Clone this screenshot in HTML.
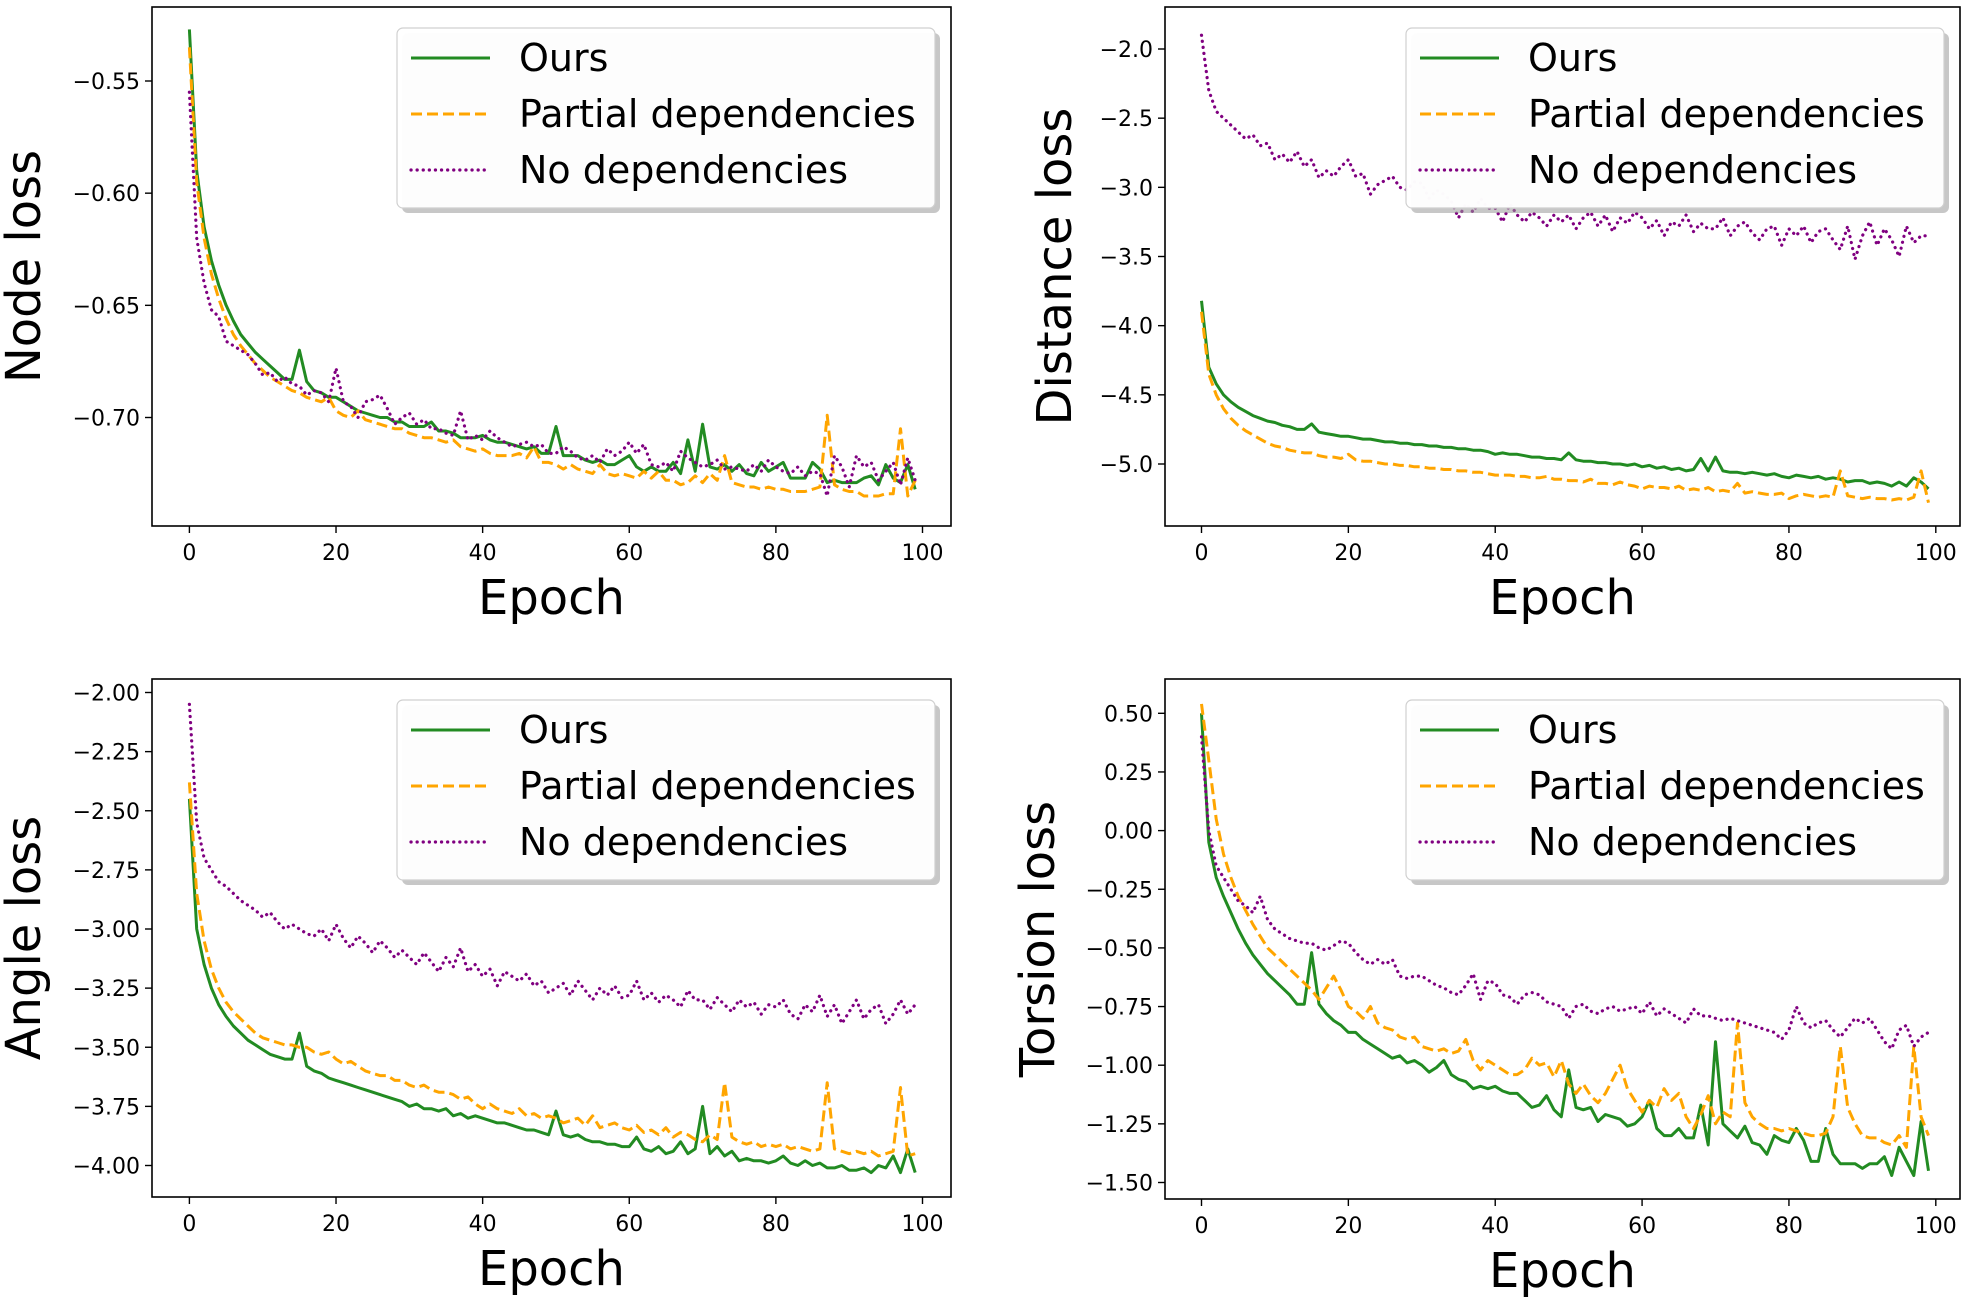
<!DOCTYPE html>
<html><head><meta charset="utf-8"><style>
html,body{margin:0;padding:0;background:#fff;}
svg text{font-family:"DejaVu Sans","Liberation Sans",sans-serif;}
</style></head><body>
<svg id="fig" xmlns="http://www.w3.org/2000/svg" width="1967" height="1300" viewBox="0 0 1967 1300"></svg>
<script>
const epochs = Array.from({length:100},(_, i)=>i);
const xTicks = [0,20,40,60,80,100];
const nodeTicks = [-0.55,-0.60,-0.65,-0.70];
const distTicks = [-2.0,-2.5,-3.0,-3.5,-4.0,-4.5,-5.0];
const angleTicks = [-2.00,-2.25,-2.50,-2.75,-3.00,-3.25,-3.50,-3.75,-4.00];
const torsionTicks = [0.50,0.25,0.00,-0.25,-0.50,-0.75,-1.00,-1.25,-1.50];
const seriesNames = ["Ours","Partial dependencies","No dependencies"];

const nodeOurs = [-0.527,-0.590,-0.615,-0.630,-0.641,-0.650,-0.657,-0.663,-0.667,-0.671,
-0.674,-0.677,-0.680,-0.683,-0.683,-0.670,-0.684,-0.688,-0.689,-0.691,
-0.691,-0.693,-0.695,-0.697,-0.698,-0.699,-0.700,-0.700,-0.702,-0.702,
-0.704,-0.704,-0.704,-0.702,-0.706,-0.706,-0.707,-0.709,-0.709,-0.709,
-0.708,-0.710,-0.711,-0.711,-0.712,-0.713,-0.714,-0.713,-0.716,-0.716,
-0.704,-0.717,-0.717,-0.717,-0.719,-0.720,-0.719,-0.721,-0.721,-0.719,
-0.717,-0.722,-0.724,-0.722,-0.724,-0.724,-0.720,-0.725,-0.710,-0.724,
-0.703,-0.722,-0.723,-0.721,-0.724,-0.721,-0.725,-0.726,-0.720,-0.724,
-0.722,-0.720,-0.727,-0.727,-0.727,-0.720,-0.723,-0.729,-0.728,-0.729,
-0.729,-0.729,-0.727,-0.726,-0.730,-0.721,-0.727,-0.729,-0.721,-0.732];
const nodePartial = [-0.535,-0.595,-0.620,-0.636,-0.647,-0.656,-0.663,-0.668,-0.672,-0.676,
-0.679,-0.682,-0.684,-0.686,-0.688,-0.689,-0.691,-0.692,-0.693,-0.691,
-0.697,-0.699,-0.700,-0.697,-0.701,-0.702,-0.703,-0.704,-0.705,-0.705,
-0.707,-0.708,-0.709,-0.709,-0.710,-0.711,-0.710,-0.713,-0.714,-0.715,
-0.714,-0.716,-0.717,-0.717,-0.717,-0.716,-0.718,-0.713,-0.720,-0.720,
-0.721,-0.723,-0.721,-0.723,-0.724,-0.725,-0.721,-0.725,-0.726,-0.725,
-0.726,-0.727,-0.724,-0.727,-0.724,-0.728,-0.728,-0.730,-0.729,-0.726,
-0.729,-0.725,-0.728,-0.717,-0.729,-0.730,-0.731,-0.731,-0.732,-0.731,
-0.732,-0.732,-0.733,-0.733,-0.733,-0.732,-0.731,-0.699,-0.730,-0.732,
-0.733,-0.733,-0.735,-0.735,-0.735,-0.734,-0.734,-0.705,-0.735,-0.728];
const nodeNone = [-0.555,-0.620,-0.640,-0.652,-0.655,-0.666,-0.668,-0.670,-0.672,-0.676,
-0.681,-0.680,-0.684,-0.682,-0.685,-0.686,-0.690,-0.688,-0.689,-0.693,
-0.678,-0.693,-0.695,-0.700,-0.693,-0.692,-0.690,-0.696,-0.703,-0.700,
-0.698,-0.703,-0.701,-0.705,-0.705,-0.707,-0.708,-0.697,-0.710,-0.708,
-0.710,-0.706,-0.709,-0.711,-0.713,-0.712,-0.711,-0.713,-0.712,-0.716,
-0.716,-0.713,-0.715,-0.718,-0.719,-0.717,-0.720,-0.714,-0.717,-0.715,
-0.711,-0.716,-0.712,-0.721,-0.722,-0.720,-0.724,-0.715,-0.718,-0.720,
-0.722,-0.721,-0.719,-0.723,-0.722,-0.723,-0.724,-0.721,-0.724,-0.719,
-0.722,-0.724,-0.725,-0.722,-0.726,-0.724,-0.725,-0.735,-0.717,-0.722,
-0.731,-0.717,-0.722,-0.720,-0.728,-0.724,-0.720,-0.730,-0.718,-0.728];

const distOurs = [-3.82,-4.30,-4.42,-4.50,-4.55,-4.59,-4.62,-4.65,-4.67,-4.69,
-4.70,-4.72,-4.73,-4.75,-4.75,-4.71,-4.77,-4.78,-4.79,-4.80,
-4.80,-4.81,-4.82,-4.82,-4.83,-4.84,-4.84,-4.85,-4.85,-4.86,
-4.86,-4.87,-4.87,-4.88,-4.88,-4.89,-4.89,-4.90,-4.90,-4.91,
-4.93,-4.92,-4.93,-4.93,-4.94,-4.95,-4.95,-4.96,-4.96,-4.97,
-4.92,-4.97,-4.98,-4.98,-4.99,-4.99,-5.00,-5.00,-5.01,-5.00,
-5.02,-5.01,-5.03,-5.02,-5.04,-5.03,-5.05,-5.04,-4.96,-5.05,
-4.95,-5.05,-5.06,-5.06,-5.07,-5.06,-5.07,-5.08,-5.07,-5.09,
-5.10,-5.08,-5.09,-5.10,-5.09,-5.11,-5.10,-5.11,-5.13,-5.12,
-5.12,-5.14,-5.13,-5.14,-5.16,-5.13,-5.16,-5.10,-5.13,-5.18];
const distPartial = [-3.90,-4.35,-4.50,-4.60,-4.67,-4.72,-4.76,-4.79,-4.82,-4.85,
-4.87,-4.88,-4.90,-4.91,-4.92,-4.92,-4.94,-4.95,-4.95,-4.96,
-4.93,-4.97,-4.98,-4.98,-4.99,-5.00,-5.00,-5.01,-5.01,-5.02,
-5.02,-5.03,-5.03,-5.04,-5.04,-5.05,-5.05,-5.06,-5.06,-5.07,
-5.08,-5.08,-5.08,-5.09,-5.09,-5.10,-5.10,-5.09,-5.11,-5.11,
-5.12,-5.12,-5.13,-5.11,-5.14,-5.14,-5.15,-5.13,-5.15,-5.16,
-5.18,-5.16,-5.17,-5.17,-5.18,-5.16,-5.19,-5.18,-5.19,-5.17,
-5.20,-5.19,-5.20,-5.14,-5.21,-5.20,-5.21,-5.22,-5.22,-5.21,
-5.25,-5.23,-5.22,-5.23,-5.24,-5.23,-5.24,-5.05,-5.23,-5.24,
-5.25,-5.24,-5.25,-5.25,-5.26,-5.25,-5.26,-5.24,-5.05,-5.28];
const distNone = [-1.90,-2.30,-2.45,-2.50,-2.55,-2.60,-2.65,-2.62,-2.70,-2.68,
-2.80,-2.76,-2.82,-2.74,-2.85,-2.80,-2.93,-2.88,-2.92,-2.85,
-2.80,-2.92,-2.90,-3.05,-2.98,-2.95,-2.92,-3.00,-3.02,-2.96,
-2.97,-3.08,-3.02,-3.05,-3.10,-3.22,-3.12,-3.18,-3.08,-3.15,
-3.15,-3.25,-3.12,-3.20,-3.25,-3.18,-3.22,-3.28,-3.20,-3.25,
-3.20,-3.30,-3.22,-3.18,-3.28,-3.20,-3.32,-3.22,-3.26,-3.18,
-3.22,-3.30,-3.24,-3.35,-3.25,-3.28,-3.20,-3.32,-3.26,-3.30,
-3.30,-3.22,-3.35,-3.28,-3.25,-3.33,-3.38,-3.30,-3.28,-3.42,
-3.30,-3.35,-3.28,-3.40,-3.32,-3.30,-3.38,-3.45,-3.28,-3.52,
-3.35,-3.25,-3.42,-3.30,-3.38,-3.50,-3.28,-3.40,-3.35,-3.35];

const angleOurs = [-2.45,-3.00,-3.15,-3.25,-3.32,-3.37,-3.41,-3.44,-3.47,-3.49,
-3.51,-3.53,-3.54,-3.55,-3.55,-3.44,-3.58,-3.60,-3.61,-3.63,
-3.64,-3.65,-3.66,-3.67,-3.68,-3.69,-3.70,-3.71,-3.72,-3.73,
-3.75,-3.74,-3.76,-3.76,-3.77,-3.76,-3.79,-3.78,-3.80,-3.79,
-3.80,-3.81,-3.82,-3.82,-3.83,-3.84,-3.85,-3.85,-3.86,-3.87,
-3.77,-3.87,-3.88,-3.87,-3.89,-3.90,-3.90,-3.91,-3.91,-3.92,
-3.92,-3.88,-3.93,-3.94,-3.92,-3.95,-3.94,-3.90,-3.95,-3.93,
-3.75,-3.95,-3.92,-3.96,-3.94,-3.98,-3.97,-3.98,-3.98,-3.99,
-3.98,-3.96,-3.99,-4.00,-3.98,-4.00,-3.99,-4.01,-4.01,-4.00,
-4.02,-4.02,-4.01,-4.03,-4.00,-4.01,-3.96,-4.03,-3.93,-4.03];
const anglePartial = [-2.38,-2.85,-3.05,-3.17,-3.25,-3.31,-3.35,-3.38,-3.41,-3.44,
-3.46,-3.47,-3.48,-3.49,-3.49,-3.50,-3.50,-3.52,-3.53,-3.52,
-3.55,-3.57,-3.56,-3.58,-3.60,-3.61,-3.62,-3.62,-3.64,-3.64,
-3.66,-3.67,-3.66,-3.68,-3.69,-3.69,-3.70,-3.72,-3.71,-3.74,
-3.76,-3.74,-3.76,-3.77,-3.78,-3.76,-3.79,-3.78,-3.80,-3.79,
-3.80,-3.82,-3.81,-3.80,-3.83,-3.79,-3.84,-3.83,-3.82,-3.84,
-3.85,-3.83,-3.86,-3.85,-3.87,-3.84,-3.88,-3.86,-3.87,-3.89,
-3.90,-3.87,-3.89,-3.65,-3.88,-3.90,-3.91,-3.90,-3.92,-3.91,
-3.92,-3.91,-3.93,-3.92,-3.93,-3.94,-3.93,-3.65,-3.93,-3.94,
-3.95,-3.94,-3.95,-3.94,-3.96,-3.95,-3.94,-3.67,-3.96,-3.95];
const angleNone = [-2.05,-2.55,-2.70,-2.75,-2.80,-2.82,-2.85,-2.88,-2.90,-2.92,
-2.95,-2.93,-2.97,-3.00,-2.98,-3.00,-3.02,-3.03,-3.00,-3.05,
-2.98,-3.04,-3.08,-3.03,-3.06,-3.10,-3.05,-3.08,-3.12,-3.09,
-3.12,-3.15,-3.10,-3.14,-3.18,-3.12,-3.16,-3.08,-3.18,-3.15,
-3.20,-3.17,-3.24,-3.18,-3.20,-3.22,-3.19,-3.24,-3.22,-3.27,
-3.25,-3.23,-3.28,-3.22,-3.26,-3.30,-3.25,-3.28,-3.24,-3.29,
-3.28,-3.22,-3.30,-3.27,-3.31,-3.28,-3.30,-3.33,-3.26,-3.30,
-3.30,-3.34,-3.29,-3.32,-3.35,-3.30,-3.33,-3.31,-3.36,-3.32,
-3.33,-3.30,-3.36,-3.38,-3.32,-3.35,-3.28,-3.37,-3.32,-3.40,
-3.35,-3.30,-3.38,-3.34,-3.32,-3.40,-3.36,-3.30,-3.36,-3.32];

const torsionOurs = [0.50,-0.05,-0.20,-0.28,-0.35,-0.42,-0.48,-0.53,-0.57,-0.61,
-0.64,-0.67,-0.70,-0.74,-0.74,-0.52,-0.74,-0.78,-0.81,-0.83,
-0.86,-0.86,-0.89,-0.91,-0.93,-0.95,-0.97,-0.96,-0.99,-0.98,
-1.00,-1.03,-1.01,-0.98,-1.04,-1.06,-1.07,-1.10,-1.09,-1.10,
-1.09,-1.11,-1.12,-1.12,-1.15,-1.18,-1.17,-1.13,-1.19,-1.22,
-1.02,-1.18,-1.19,-1.18,-1.24,-1.21,-1.22,-1.23,-1.26,-1.25,
-1.22,-1.15,-1.27,-1.30,-1.30,-1.27,-1.31,-1.31,-1.17,-1.34,
-0.90,-1.25,-1.28,-1.31,-1.26,-1.33,-1.34,-1.38,-1.30,-1.32,
-1.33,-1.27,-1.32,-1.41,-1.41,-1.27,-1.38,-1.42,-1.42,-1.42,
-1.44,-1.42,-1.42,-1.39,-1.47,-1.35,-1.41,-1.47,-1.24,-1.45];
const torsionPartial = [0.54,0.30,0.05,-0.10,-0.20,-0.28,-0.34,-0.40,-0.45,-0.50,
-0.53,-0.56,-0.59,-0.62,-0.65,-0.68,-0.72,-0.67,-0.62,-0.68,
-0.75,-0.77,-0.80,-0.75,-0.82,-0.84,-0.85,-0.88,-0.89,-0.88,
-0.92,-0.93,-0.94,-0.93,-0.95,-0.94,-0.89,-0.98,-1.02,-0.98,
-1.00,-1.02,-1.04,-1.04,-1.02,-0.97,-1.00,-0.99,-1.05,-0.98,
-1.08,-1.12,-1.08,-1.13,-1.16,-1.12,-1.06,-1.00,-1.10,-1.15,
-1.20,-1.15,-1.18,-1.10,-1.15,-1.12,-1.22,-1.27,-1.21,-1.13,
-1.25,-1.20,-1.22,-0.82,-1.16,-1.22,-1.25,-1.27,-1.27,-1.28,
-1.27,-1.28,-1.29,-1.30,-1.30,-1.29,-1.22,-0.92,-1.18,-1.25,
-1.30,-1.31,-1.31,-1.33,-1.34,-1.30,-1.35,-0.92,-1.22,-1.30];
const torsionNone = [0.40,0.00,-0.15,-0.20,-0.25,-0.30,-0.32,-0.35,-0.28,-0.38,
-0.42,-0.44,-0.46,-0.47,-0.48,-0.48,-0.50,-0.51,-0.49,-0.47,
-0.48,-0.52,-0.55,-0.57,-0.55,-0.57,-0.55,-0.62,-0.63,-0.62,
-0.62,-0.64,-0.66,-0.67,-0.69,-0.70,-0.66,-0.61,-0.72,-0.64,
-0.65,-0.70,-0.71,-0.74,-0.70,-0.69,-0.70,-0.73,-0.74,-0.75,
-0.80,-0.75,-0.74,-0.77,-0.78,-0.76,-0.75,-0.77,-0.76,-0.75,
-0.78,-0.73,-0.79,-0.76,-0.78,-0.80,-0.82,-0.76,-0.79,-0.79,
-0.80,-0.81,-0.80,-0.81,-0.82,-0.83,-0.84,-0.85,-0.86,-0.89,
-0.85,-0.75,-0.82,-0.84,-0.82,-0.81,-0.85,-0.88,-0.84,-0.80,
-0.82,-0.80,-0.85,-0.90,-0.93,-0.85,-0.83,-0.92,-0.88,-0.86];

const NS="http://www.w3.org/2000/svg";
const svg=document.getElementById('fig');
function mk(tag,attrs,parent){const e=document.createElementNS(NS,tag);for(const k in attrs)e.setAttribute(k,attrs[k]);(parent||svg).appendChild(e);return e;}
const styles=[{c:"#228B22",d:"",w:3},{c:"#FFA500",d:"11,5",w:3},{c:"#800080",d:"0.1,6",w:3.2}];

function panel(id,box,ticks,ref,series,ylabel,ylx,dec){
  const g=mk('g',{});
  
  
  const xS=v=>box.x0px+(v-0)*(box.x100px-box.x0px)/100;
  const yS=v=>ref[1]+(v-ref[0])*(ref[3]-ref[1])/(ref[2]-ref[0]);
  const cp=mk('clipPath',{id:'clip-'+id},g);
  mk('rect',{x:box.l,y:box.t,width:box.r-box.l,height:box.b-box.t},cp);
  const lines=mk('g',{'clip-path':'url(#clip-'+id+')'},g);
  
  
  series.forEach((s,i)=>{
    const p=mk('polyline',{points:epochs.map(e=>xS(e).toFixed(1)+','+yS(s[e]).toFixed(1)).join(' '),fill:'none',stroke:styles[i].c,'stroke-width':styles[i].w,'stroke-dasharray':styles[i].d,'stroke-linejoin':'round','stroke-linecap':i==2?'round':'butt'},lines);
    
    
  });
  const fr=mk('rect',{x:box.l,y:box.t,width:box.r-box.l,height:box.b-box.t,fill:'none',stroke:'#000','stroke-width':1.6},g);
  
  
  xTicks.forEach(t=>{
    const x=xS(t);
    mk('line',{x1:x,x2:x,y1:box.b,y2:box.b+7,stroke:'#000','stroke-width':1.4},g);
    const tx=mk('text',{x:x,y:box.b+34,'font-size':22,'text-anchor':'middle'},g);
    tx.textContent=String(t);
    
    
  });
  ticks.forEach(t=>{
    const y=yS(t);
    mk('line',{x1:box.l-7,x2:box.l,y1:y,y2:y,stroke:'#000','stroke-width':1.4},g);
    const tx=mk('text',{x:box.l-12,y:y+8,'font-size':22,'text-anchor':'end'},g);
    tx.textContent=(t<0?'\u2212':'')+Math.abs(t).toFixed(dec);
    
    
  });
  const xl=mk('text',{x:(box.l+box.r)/2,y:box.b+88,'font-size':48,'text-anchor':'middle'},g);
  xl.textContent='Epoch';
  
  
  const cy=(box.t+box.b)/2;
  const yl=mk('text',{x:ylx,y:cy,'font-size':48,'text-anchor':'middle',transform:'rotate(-90 '+ylx+' '+cy+')'},g);
  yl.textContent=ylabel;
  
  
  const lx=box.r-16-538, ly=box.t+21;
  const lg=mk('g',{},g);
  
  
  mk('rect',{x:lx+5,y:ly+5,width:538,height:180,rx:6,fill:'#999','fill-opacity':0.55},lg);
  mk('rect',{x:lx,y:ly,width:538,height:180,rx:6,fill:'#ffffff','fill-opacity':0.97,stroke:'#d0d0d0','stroke-width':1.2},lg);
  seriesNames.forEach((n,i)=>{
    const yy=ly+30+i*56;
    const l=mk('line',{x1:lx+14,x2:lx+93,y1:yy,y2:yy,stroke:styles[i].c,'stroke-width':styles[i].w,'stroke-dasharray':styles[i].d,'stroke-linecap':i==2?'round':'butt'},lg);
    
    
    const t=mk('text',{x:lx+122,y:yy+13,'font-size':38},lg);
    t.textContent=n;
    
    
  });
}
panel('node',{l:152,r:951,t:7,b:526,x0px:189.4,x100px:922.5},nodeTicks,[-0.55,81,-0.70,417.5],[nodeOurs,nodePartial,nodeNone],'Node loss',40,2);
panel('distance',{l:1165,r:1960,t:7,b:526,x0px:1201.5,x100px:1935.8},distTicks,[-2.0,49,-5.0,464],[distOurs,distPartial,distNone],'Distance loss',1071,1);
panel('angle',{l:152,r:951,t:679,b:1197,x0px:189.4,x100px:922.5},angleTicks,[-2.0,692.5,-4.0,1165.5],[angleOurs,anglePartial,angleNone],'Angle loss',40,2);
panel('torsion',{l:1165,r:1960,t:679,b:1199,x0px:1201.5,x100px:1935.8},torsionTicks,[0.5,713.3,-1.5,1182.5],[torsionOurs,torsionPartial,torsionNone],'Torsion loss',1054,2);
</script>
</body></html>
